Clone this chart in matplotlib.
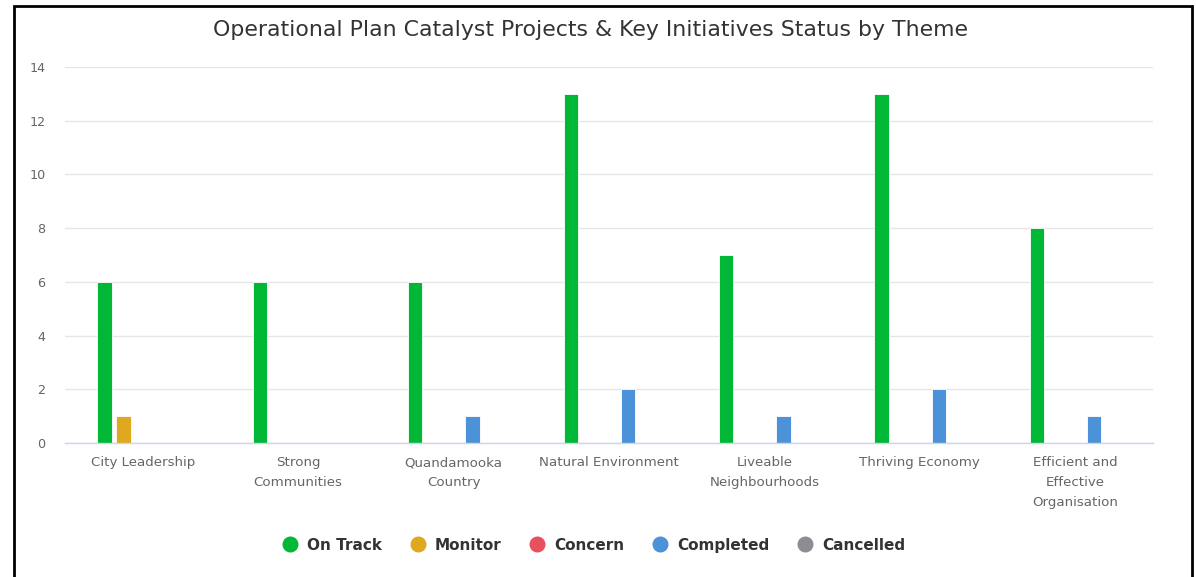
import numpy as np
import matplotlib.pyplot as plt
from matplotlib.patches import Rectangle
from matplotlib.lines import Line2D

# Data
themes = ["City Leadership", "Strong\nCommunities", "Quandamooka\nCountry",
          "Natural Environment", "Liveable\nNeighbourhoods", "Thriving Economy",
          "Efficient and\nEffective\nOrganisation"]
series_names = ["On Track", "Monitor", "Concern", "Completed", "Cancelled"]
on_track = [6, 6, 6, 13, 7, 13, 8]
monitor = [1, 0, 0, 0, 0, 0, 0]
concern = [0, 0, 0, 0, 0, 0, 0]
completed = [0, 0, 1, 2, 1, 2, 1]
cancelled = [0, 0, 0, 0, 0, 0, 0]
colors = ["#00b836", "#e0a81e", "#e8505b", "#4c92d8", "#8c8c94"]

fig = plt.figure(figsize=(11.96, 5.77), dpi=100)
ax = fig.add_axes([0.0543, 0.2322, 0.9097, 0.6517])

x = np.arange(len(themes))
step = 0.123
width = 0.092
for i, (vals, col) in enumerate(zip([on_track, monitor, concern, completed, cancelled], colors)):
  v = np.array(vals, dtype=float)
  ax.bar(x + (i - 2) * step, np.where(v > 0, v, np.nan), width=width,
         color=col, edgecolor="white", linewidth=0.6, zorder=3)

ax.set_xlim(-0.5, len(themes) - 0.5)
ax.set_ylim(0, 14)
ax.set_yticks(range(0, 15, 2))
ax.set_xticks(x)
ax.set_xticklabels(themes, linespacing=1.68)
ax.tick_params(axis="both", length=0, labelsize=9.6, colors="#666666")
ax.tick_params(axis="y", pad=14, labelsize=9.2)
ax.tick_params(axis="x", pad=9.5)
ax.grid(axis="y", color="#e6e6e6", linewidth=1, zorder=0)
for s in ["left", "right", "top"]:
  ax.spines[s].set_visible(False)
ax.spines["bottom"].set_color("#ccd6eb")
ax.spines["bottom"].set_linewidth(1)
ax.spines["bottom"].set_zorder(4)

fig.text(0.4935, 0.948, "Operational Plan Catalyst Projects & Key Initiatives Status by Theme",
         ha="center", va="center", fontsize=15.8, color="#333333")

handles = [Line2D([], [], marker="o", linestyle="", markersize=10.5, color=c) for c in colors]
leg = fig.legend(handles, series_names, loc="center", bbox_to_anchor=(0.4965, 0.055), ncol=5,
                 frameon=False, handlelength=1.0, handletextpad=0.65, columnspacing=1.8,
                 prop={"weight": "bold", "size": 11})
for t in leg.get_texts():
  t.set_color("#333333")

# black frame around the chart (cut off at the bottom)
fig.patches.append(Rectangle((0.0117, -0.05), 0.985, 1.0396, transform=fig.transFigure,
                             fill=False, edgecolor="black", linewidth=2))

fig.savefig("out.png", dpi=100)
